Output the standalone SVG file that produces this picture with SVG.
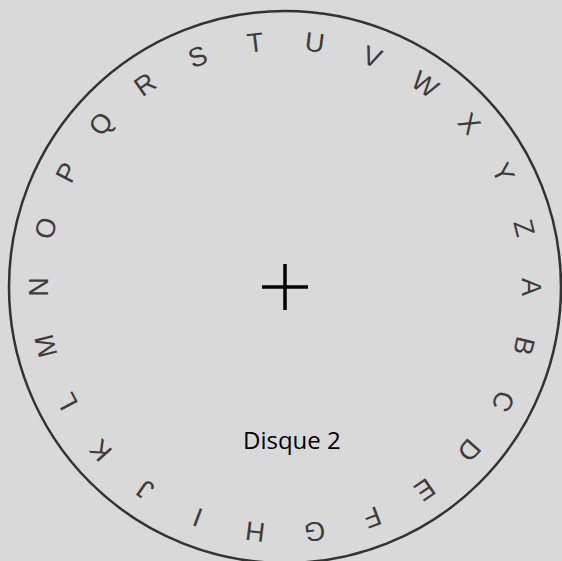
<svg xmlns="http://www.w3.org/2000/svg" width="562" height="561" viewBox="0 0 562 561">
<style>
.l{font-family:"Liberation Sans","DejaVu Sans",sans-serif;font-size:27px;fill:#3c3c3c;text-anchor:middle}
.t{font-family:"Open Sans","Liberation Sans",sans-serif;font-size:24px;fill:#000}
</style>
<rect width="562" height="561" fill="#d9d9d9"/>
<g id="disc"><circle cx="285" cy="287" r="276" fill="none" stroke="#333" stroke-width="2.5"/></g>
<g id="center-cross" stroke="#000" stroke-width="3.5"><line x1="262" y1="287" x2="308" y2="287"/><line x1="285" y1="264" x2="285" y2="310"/></g>
<g id="letters">
<g id="A" transform="rotate(90 285 287)"><text class="l" x="285" y="50">A</text></g>
<g id="B" transform="rotate(103.846 285 287)"><text class="l" x="285" y="50">B</text></g>
<g id="C" transform="rotate(117.692 285 287)"><text class="l" x="285" y="50">C</text></g>
<g id="D" transform="rotate(131.538 285 287)"><text class="l" x="285" y="50">D</text></g>
<g id="E" transform="rotate(145.385 285 287)"><text class="l" x="285" y="50">E</text></g>
<g id="F" transform="rotate(159.231 285 287)"><text class="l" x="285" y="50">F</text></g>
<g id="G" transform="rotate(173.077 285 287)"><text class="l" x="285" y="50">G</text></g>
<g id="H" transform="rotate(186.923 285 287)"><text class="l" x="285" y="50">H</text></g>
<g id="I" transform="rotate(200.769 285 287)"><text class="l" x="285" y="50">I</text></g>
<g id="J" transform="rotate(214.615 285 287)"><text class="l" x="285" y="50">J</text></g>
<g id="K" transform="rotate(228.462 285 287)"><text class="l" x="285" y="50">K</text></g>
<g id="L" transform="rotate(242.308 285 287)"><text class="l" x="285" y="50">L</text></g>
<g id="M" transform="rotate(256.154 285 287)"><text class="l" x="285" y="50">M</text></g>
<g id="N" transform="rotate(270 285 287)"><text class="l" x="285" y="50">N</text></g>
<g id="O" transform="rotate(283.846 285 287)"><text class="l" x="285" y="50">O</text></g>
<g id="P" transform="rotate(297.692 285 287)"><text class="l" x="285" y="50">P</text></g>
<g id="Q" transform="rotate(311.538 285 287)"><text class="l" x="285" y="50">Q</text></g>
<g id="R" transform="rotate(325.385 285 287)"><text class="l" x="285" y="50">R</text></g>
<g id="S" transform="rotate(339.231 285 287)"><text class="l" x="285" y="50">S</text></g>
<g id="T" transform="rotate(353.077 285 287)"><text class="l" x="285" y="50">T</text></g>
<g id="U" transform="rotate(6.923 285 287)"><text class="l" x="285" y="50">U</text></g>
<g id="V" transform="rotate(20.769 285 287)"><text class="l" x="285" y="50">V</text></g>
<g id="W" transform="rotate(34.615 285 287)"><text class="l" x="285" y="50">W</text></g>
<g id="X" transform="rotate(48.462 285 287)"><text class="l" x="285" y="50">X</text></g>
<g id="Y" transform="rotate(62.308 285 287)"><text class="l" x="285" y="50">Y</text></g>
<g id="Z" transform="rotate(76.154 285 287)"><text class="l" x="285" y="50">Z</text></g>
</g>
<g id="label"><text class="t" x="243" y="449">Disque 2</text></g>
</svg>
